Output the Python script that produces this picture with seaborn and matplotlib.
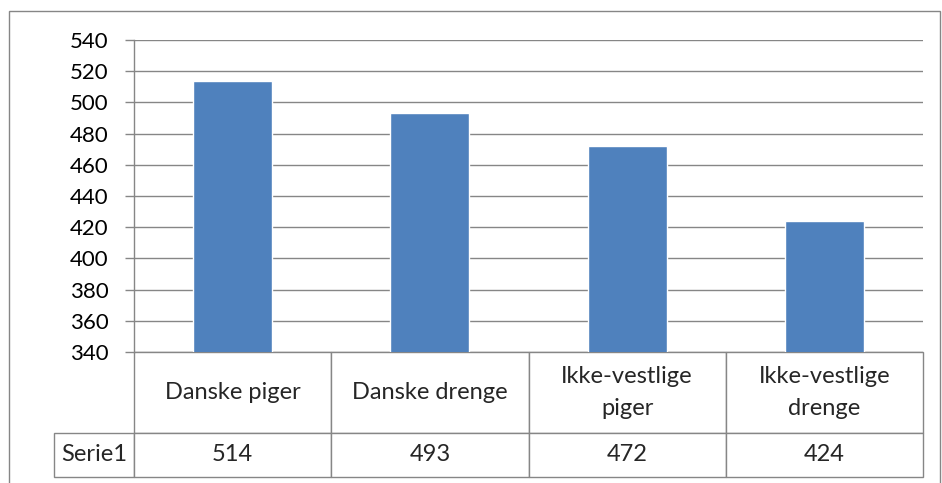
import matplotlib
matplotlib.use("Agg")
import matplotlib.pyplot as plt
import matplotlib.patches as mpatches
from matplotlib.table import Table
import pandas as pd
import seaborn as sns

# ---- data ----
categories = ["Danske piger", "Danske drenge", "Ikke-vestlige\npiger", "Ikke-vestlige\ndrenge"]
values = [514, 493, 472, 424]
series_name = "Serie1"
y_ticks = list(range(340, 541, 20))

df = pd.DataFrame({"group": categories, "score": values})

# ---- style ----
sns.set_style("white")
plt.rcParams["font.family"] = ["Lato", "DejaVu Sans"]
grey = "#868686"
bar_blue = "#4F81BD"

W, H = 942, 483
fig = plt.figure(figsize=(W / 100, H / 100), dpi=100)

# outer chart border
fig.patches.append(mpatches.Rectangle((9 / W, -0.1), (931 / W), 1.1 - 11 / H,
                                      transform=fig.transFigure, fill=False,
                                      edgecolor=grey, linewidth=1.0))

ax_left, ax_top, ax_right, ax_bottom = 134, 40, 923, 352
ax = fig.add_axes([ax_left / W, 1 - ax_bottom / H,
                   (ax_right - ax_left) / W, (ax_bottom - ax_top) / H])

sns.barplot(data=df, x="group", y="score", color=bar_blue, width=0.4,
            saturation=1, ax=ax, zorder=3)

ax.set_ylim(340, 540)
ax.set_yticks(y_ticks)
ax.set_xlim(-0.5, len(categories) - 0.5)
ax.yaxis.grid(True, color=grey, linewidth=1.0, zorder=0)
ax.set_axisbelow(True)
ax.set_xticks([])
ax.set_xlabel("")
ax.set_ylabel("")
for side in ["top", "right", "bottom"]:
    ax.spines[side].set_visible(False)
ax.spines["left"].set_color(grey)
ax.spines["left"].set_linewidth(1.0)
ax.tick_params(axis="y", left=True, length=6.5, width=1.0, color=grey,
               pad=12, labelsize=16, labelcolor="black")

# ---- data table under the axis (sizes in axes fractions) ----
ax_w = ax_right - ax_left
ax_h = ax_bottom - ax_top
label_w = 80 / ax_w
col_w = 1 / len(categories)
head_h, row_h = 81 / ax_h, 44 / ax_h

tbl = Table(ax, bbox=[0, -(head_h + row_h), 1, head_h + row_h])
cells = []
for j, cat in enumerate(categories):
    cells.append(tbl.add_cell(0, j, width=col_w, height=head_h, text=cat, loc="center"))
    cells.append(tbl.add_cell(1, j, width=col_w, height=row_h, text=str(values[j]), loc="center"))
cells.append(tbl.add_cell(1, -1, width=label_w, height=row_h, text=series_name, loc="center"))
tbl.auto_set_font_size(False)
tbl.set_fontsize(17)
for c in cells:
    c.set_edgecolor(grey)
    c.set_linewidth(1.0)
    c.get_text().set_linespacing(1.6)
ax.add_table(tbl)

fig.savefig("out.png", dpi=100)
